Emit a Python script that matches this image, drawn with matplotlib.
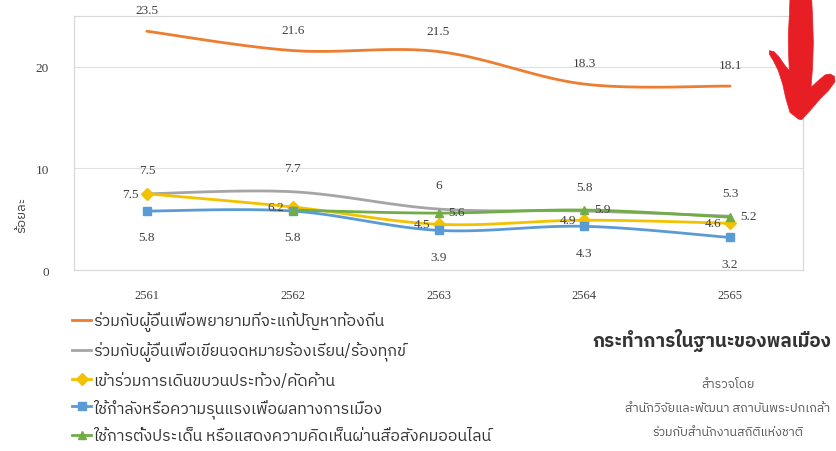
import numpy as np
import matplotlib
matplotlib.use("Agg")
import matplotlib.pyplot as plt
import matplotlib.font_manager as fm
from matplotlib import ft2font
from matplotlib.lines import Line2D
from matplotlib.patches import Polygon

# ---------------- data ----------------
years = ["2561", "2562", "2563", "2564", "2565"]
series_names = [
    "ร่วมกับผู้อื่นเพื่อพยายามที่จะแก้ปัญหาท้องถิ่น",
    "ร่วมกับผู้อื่นเพื่อเขียนจดหมายร้องเรียน/ร้องทุกข์",
    "เข้าร่วมการเดินขบวนประท้วง/คัดค้าน",
    "ใช้กำลังหรือความรุนแรงเพื่อผลทางการเมือง",
    "ใช้การตั้งประเด็น หรือแสดงความคิดเห็นผ่านสื่อสังคมออนไลน์",
]
local_problem = [23.5, 21.6, 21.5, 18.3, 18.1]
petition = [7.5, 7.7, 6.0, 5.8, 5.3]
protest = [7.5, 6.2, 4.5, 4.9, 4.6]
violence = [5.8, 5.8, 3.9, 4.3, 3.2]
online = [np.nan, 5.9, 5.6, 5.9, 5.2]
online_labels = [None, None, "5.6", "5.9", "5.2"]
title_text = "กระทำการในฐานะของพลเมือง"
source_lines = ["สำรวจโดย", "สำนักวิจัยและพัฒนา สถาบันพระปกเกล้า", "ร่วมกับสำนักงานสถิติแห่งชาติ"]
y_label = "ร้อยละ"

# ---------------- fonts ----------------
def find_thai_font():
    cands = []
    for f in fm.fontManager.ttflist:
        try:
            cm = ft2font.FT2Font(f.fname).get_charmap()
        except Exception:
            continue
        if ord("ก") in cm:
            cands.append(f.name)
    pref = [c for c in cands if "Sans" in c and "Mono" not in c]
    if pref:
        return pref[0]
    return cands[0] if cands else "DejaVu Sans"

thai = find_thai_font()
plt.rcParams["font.family"] = [thai, "DejaVu Sans"]
num_font = ["Liberation Serif", "DejaVu Serif"]

W, H = 836, 452
fig = plt.figure(figsize=(W / 100, H / 100), dpi=100)
ax = fig.add_axes([74 / W, 1 - 271 / H, (803 - 74) / W, (271 - 17) / H])

x = np.arange(len(years))


def smooth(xs, ys, n=30):
    xs = np.asarray(xs, float)
    ys = np.asarray(ys, float)
    ox, oy = [], []
    m = len(xs)
    for i in range(m - 1):
        p0 = np.array([xs[max(i - 1, 0)], ys[max(i - 1, 0)]])
        p1 = np.array([xs[i], ys[i]])
        p2 = np.array([xs[i + 1], ys[i + 1]])
        p3 = np.array([xs[min(i + 2, m - 1)], ys[min(i + 2, m - 1)]])
        c1 = p1 + (p2 - p0) / 6.0
        c2 = p2 - (p3 - p1) / 6.0
        t = np.linspace(0, 1, n)[:, None]
        pts = ((1 - t) ** 3) * p1 + 3 * ((1 - t) ** 2) * t * c1 + 3 * (1 - t) * t ** 2 * c2 + t ** 3 * p2
        ox.extend(pts[:, 0])
        oy.extend(pts[:, 1])
    return ox, oy


colors = ["#ED7D31", "#A5A5A5", "#F2C200", "#5B9BD5", "#70AD47"]
data = [local_problem, petition, protest, violence, online]
markers = [None, None, "D", "s", "^"]

for vals, c, mk in zip(data, colors, markers):
    v = np.asarray(vals, float)
    ok = ~np.isnan(v)
    sx, sy = smooth(x[ok], v[ok])
    ax.plot(sx, sy, color=c, lw=2.0, solid_capstyle="round", zorder=3)
    if mk:
        ax.plot(x[ok], v[ok], ls="none", marker=mk, ms=6, color=c, zorder=4)

lab_kw = dict(fontsize=9.5, color="#404040", family=num_font, zorder=5)


def fmt(v):
    return ("%g" % v)

for i, v in enumerate(local_problem):
    ax.annotate(fmt(v), (x[i], v), xytext=(0, 15), textcoords="offset points", ha="center", va="center", **lab_kw)
for i, v in enumerate(petition):
    ax.annotate(fmt(v), (x[i], v), xytext=(0, 17), textcoords="offset points", ha="center", va="center", **lab_kw)
for i, v in enumerate(protest):
    ax.annotate(fmt(v), (x[i], v), xytext=(-6, 0), textcoords="offset points", ha="right", va="center", **lab_kw)
for i, v in enumerate(violence):
    ax.annotate(fmt(v), (x[i], v), xytext=(0, -19), textcoords="offset points", ha="center", va="center", **lab_kw)
for i, v in enumerate(online):
    if online_labels[i]:
        ax.annotate(online_labels[i], (x[i], v), xytext=(7, 1), textcoords="offset points", ha="left", va="center", **lab_kw)

ax.set_xlim(-0.5, len(years) - 0.5)
ax.set_ylim(0, 25)
ax.set_yticks([0, 10, 20])
ax.set_xticks(x)
ax.set_xticklabels(years, family=num_font, fontsize=9, color="#404040")
for t in ax.get_yticklabels():
    t.set_family(num_font)
    t.set_fontsize(9.5)
    t.set_color("#404040")
ax.tick_params(axis="both", length=0, pad=14)
ax.tick_params(axis="y", pad=18)
ax.grid(axis="y", color="#E0E0E0", lw=0.8)
ax.set_axisbelow(True)
for s in ax.spines.values():
    s.set_color("#D9D9D9")
    s.set_linewidth(0.9)

fig.text(22 / W, 1 - 215 / H, y_label, rotation=90, ha="center", va="center", fontsize=9.5, color="#404040")

handles = []
for c, mk in zip(colors, markers):
    handles.append(Line2D([0], [0], color=c, lw=2, marker=mk, ms=6))
fig.legend(handles, series_names, loc="upper left", bbox_to_anchor=(72 / W, 1 - 313 / H),
           frameon=False, fontsize=11.5, handlelength=1.2, handletextpad=0.1, labelspacing=0.62,
           borderaxespad=0, borderpad=0, labelcolor="#333333")

fig.text(712 / W, 1 - 341 / H, title_text, ha="center", va="center", fontsize=13.5, fontweight="bold", color="#333333")
for k, (t, yy) in enumerate(zip(source_lines, [385, 409, 433])):
    fig.text(728 / W, 1 - yy / H, t, ha="center", va="center", fontsize=9, color="#555555")

# decorative red arrow outline (traced at 3x around origin x=740, y from top)
arrow_3x = [(150, 0), (215, 0), (218, 60), (220, 130), (218, 200), (213, 265),
            (235, 245), (255, 228), (270, 225), (283, 232), (285, 248),
            (265, 275), (240, 300), (210, 335), (185, 362), (175, 360), (150, 340),
            (138, 300), (128, 255), (115, 215), (100, 185), (88, 165), (88, 155),
            (102, 158), (118, 175), (135, 200), (148, 215),
            (146, 170), (145, 110), (148, 50)]
arrow = Polygon([((740 + X / 3) / W, 1 - (Y / 3) / H) for X, Y in arrow_3x], closed=True,
                transform=fig.transFigure, facecolor="#E81E25", edgecolor="#E81E25",
                lw=0.5, joinstyle="round", zorder=10)
fig.patches.append(arrow)

fig.savefig("out.png", dpi=100)
